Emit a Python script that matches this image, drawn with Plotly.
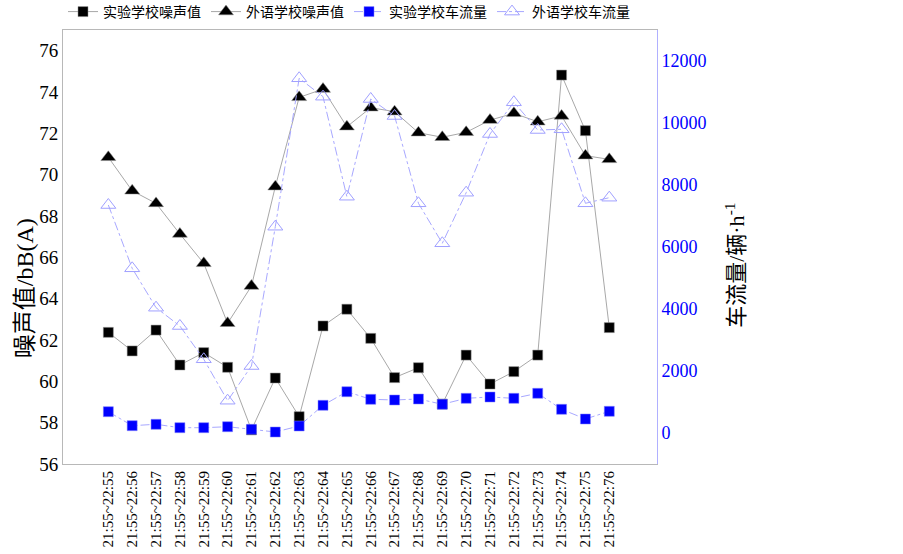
import plotly.graph_objects as go

categories = ["21:55~22:%d" % m for m in range(55, 77)]

noise_exp = [62.37, 61.47, 62.48, 60.79, 61.39, 60.68, 57.65, 60.16, 58.29, 62.68, 63.49,
             62.08, 60.18, 60.66, 58.90, 61.27, 59.87, 60.47, 61.27, 74.82, 72.13, 62.60]
noise_for = [70.84, 69.22, 68.61, 67.13, 65.71, 62.81, 64.61, 69.42, 73.74, 74.14, 72.32,
             73.24, 73.05, 72.03, 71.81, 72.05, 72.64, 72.97, 72.56, 72.84, 70.92, 70.74]
flow_exp = [687, 236, 281, 171, 171, 203, 119, 32, 226, 894, 1332,
            1087, 1065, 1097, 926, 1119, 1161, 1119, 1281, 765, 452, 700]
flow_for = [7355, 5313, 4042, 3452, 2378, 1042, 2161, 6655, 11443, 10849, 7623,
            10775, 10226, 7410, 6120, 7752, 9646, 10668, 9775, 9797, 7410, 7591]
flow_ticks = [0, 2000, 4000, 6000, 8000, 10000, 12000]

serif = "Liberation Serif, Times New Roman, serif"
cjk = "Liberation Serif, Noto Sans CJK SC, serif"

fig = go.Figure()
fig.add_trace(go.Scatter(x=categories, y=noise_exp, name="实验学校噪声值", mode="lines+markers",
                         line=dict(color="#a8a8a8", width=1),
                         marker=dict(symbol="square", size=10, color="black",
                                     line=dict(color="#909090", width=0.5))))
fig.add_trace(go.Scatter(x=categories, y=noise_for, name="外语学校噪声值", mode="lines+markers",
                         line=dict(color="#a8a8a8", width=1),
                         marker=dict(symbol="triangle-up", size=13, color="black",
                                     line=dict(color="#909090", width=0.5))))
fig.add_trace(go.Scatter(x=categories, y=flow_exp, name="实验学校车流量", mode="lines+markers",
                         yaxis="y2", line=dict(color="#a8a8ff", width=1, dash="dashdot"),
                         marker=dict(symbol="square", size=10, color="#0000ff",
                                     line=dict(color="#8080ff", width=0.5))))
fig.add_trace(go.Scatter(x=categories, y=flow_for, name="外语学校车流量", mode="lines+markers",
                         yaxis="y2", line=dict(color="#a8a8ff", width=1, dash="dashdot"),
                         marker=dict(symbol="triangle-up-open", size=13, color="#a0a0ff",
                                     line=dict(width=1))))

fig.update_layout(
    width=903, height=554,
    margin=dict(l=63, r=246, t=30, b=90, autoexpand=False),
    plot_bgcolor="white", paper_bgcolor="white",
    font=dict(family=cjk, size=14, color="black"),
    showlegend=True,
    legend=dict(orientation="h", x=0, xanchor="left", y=1.0415, yanchor="middle",
                font=dict(family="Noto Sans CJK SC, sans-serif", size=14),
                bgcolor="rgba(0,0,0,0)", itemwidth=30, tracegroupgap=0),
    xaxis=dict(type="category", range=[-1.9, 23.0], showgrid=False, zeroline=False,
               showline=True, linecolor="#b8b8b8", linewidth=1, mirror=True,
               tickangle=-90, tickfont=dict(family=serif, size=15, color="black"),
               ticks="", automargin=False),
    yaxis=dict(range=[56, 77], dtick=2, tick0=56, showgrid=False, zeroline=False,
               showline=True, linecolor="#b8b8b8", linewidth=1,
               tickfont=dict(family=serif, size=19, color="black"), ticks="",
               automargin=False),
    yaxis2=dict(range=[-1000, 13000], tickvals=flow_ticks, ticktext=[str(v) for v in flow_ticks],
                overlaying="y", side="right", showgrid=False, zeroline=False,
                showline=True, linecolor="#b0b0ff", linewidth=1,
                tickfont=dict(family=serif, size=18, color="#0000ff"), ticks="",
                automargin=False),
    annotations=[
        dict(text="噪声值/bB(A)", xref="paper", yref="paper", x=-0.064, y=0.405,
             xanchor="center", yanchor="middle", textangle=-90, showarrow=False,
             font=dict(family=cjk, size=24, color="black")),
        dict(text="车流量/辆·h<sup>-1</sup>", xref="paper", yref="paper", x=1.131, y=0.4585,
             xanchor="center", yanchor="middle", textangle=-90, showarrow=False,
             font=dict(family=cjk, size=22, color="black")),
    ],
)

fig.write_html("out.html", config={"displayModeBar": False},
               post_script="document.body.style.margin='0';")
